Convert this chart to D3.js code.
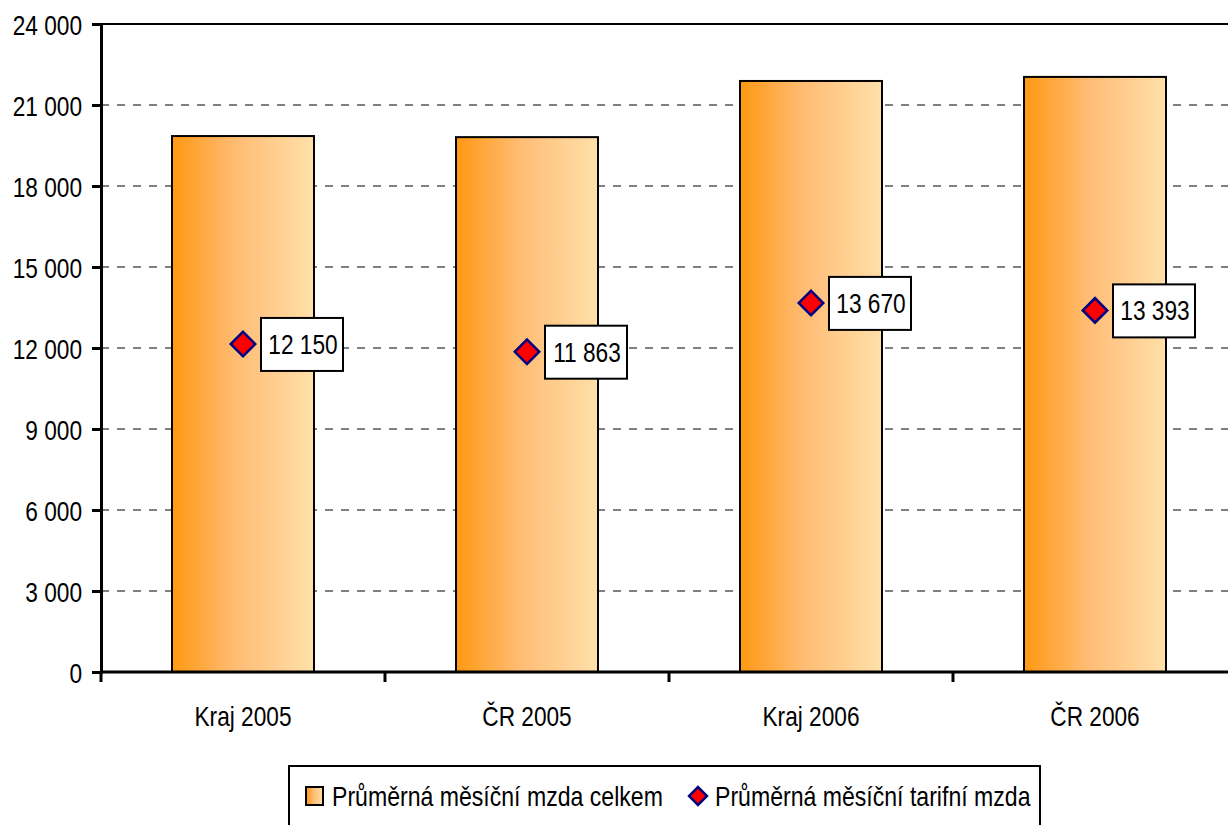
<!DOCTYPE html>
<html>
<head>
<meta charset="utf-8">
<script src="https://d3js.org/d3.v7.min.js"></script>
<style>
  body { margin: 0; background: #fff; }
  svg text { font-family: "Liberation Sans", Arial, sans-serif; fill: #000; }
</style>
</head>
<body>
<div id="chart"></div>
<script>
// data
var categories = ["Kraj 2005", "ČR 2005", "Kraj 2006", "ČR 2006"];
var celkem = [19850, 19810, 21890, 22040];
var tarifni = [12150, 11863, 13670, 13393];
var tarifniLabels = ["12 150", "11 863", "13 670", "13 393"];
var yTicks = [0, 3000, 6000, 9000, 12000, 15000, 18000, 21000, 24000];
var legendNames = ["Průměrná měsíční mzda celkem", "Průměrná měsíční tarifní mzda"];

var w = 1228, h = 825;
var mLeft = 101, mTop = 24, mBottom = 672, mRight = 1237;
var narrowK = 0.81;

// squeeze text horizontally to imitate a narrow font
function narrow(sel, k) {
  sel.each(function() {
    var t = d3.select(this);
    var tx = +t.attr("x") || 0, ty = +t.attr("y") || 0;
    t.attr("x", 0).attr("y", 0)
     .attr("transform", "translate(" + tx + "," + ty + ") scale(" + (k || narrowK) + ",1)");
  });
}

var svg = d3.select("#chart").append("svg").attr("width", w).attr("height", h);

var grad = svg.append("defs").append("linearGradient").attr("id", "bar").attr("x1", "0").attr("x2", "1").attr("y1", "0").attr("y2", "0");
grad.append("stop").attr("offset", "0").attr("stop-color", "#FF9812");
grad.append("stop").attr("offset", "0.45").attr("stop-color", "#FFBC74");
grad.append("stop").attr("offset", "1").attr("stop-color", "#FFE0AA");

var x = d3.scaleBand().domain(categories).range([mLeft, mRight]).paddingInner(0.5).paddingOuter(0.25);
var xb = d3.scaleBand().domain(categories).range([mLeft, mRight]);
var y = d3.scaleLinear().domain([0, 24000]).range([mBottom, mTop]);

var fmt = function(d) { return d3.format(",")(d).replace(/,/g, " "); };

// gridlines
svg.selectAll("line.grid").data(yTicks.filter(function(d) { return d > 0 && d < 24000; })).enter()
  .append("line").attr("class", "grid")
  .attr("x1", mLeft).attr("x2", w).attr("y1", function(d) { return y(d); }).attr("y2", function(d) { return y(d); })
  .attr("stroke", "#555").attr("stroke-width", 1.3).attr("stroke-dasharray", "8,8");

// top border
svg.append("line").attr("x1", mLeft).attr("x2", w).attr("y1", mTop).attr("y2", mTop).attr("stroke", "#000").attr("stroke-width", 2);

// bars
svg.selectAll("rect.bar").data(celkem).enter().append("rect").attr("class", "bar")
  .attr("x", function(d, i) { return x(categories[i]); })
  .attr("y", function(d) { return y(d); })
  .attr("width", x.bandwidth())
  .attr("height", function(d) { return mBottom - y(d); })
  .attr("fill", "url(#bar)").attr("stroke", "#000").attr("stroke-width", 2);

// y axis
var yAxis = svg.append("g").attr("transform", "translate(" + mLeft + ",0)")
  .call(d3.axisLeft(y).tickValues(yTicks).tickSize(9).tickPadding(10).tickFormat(fmt));
yAxis.attr("font-family", null).attr("font-size", null);
yAxis.select(".domain").attr("stroke-width", 3);
yAxis.selectAll(".tick line").attr("stroke-width", 3);
yAxis.selectAll("text").style("font-size", "28px").attr("dy", "0.36em").call(narrow);

// x axis
var xAxis = svg.append("g").attr("transform", "translate(0," + mBottom + ")");
xAxis.append("line").attr("x1", mLeft).attr("x2", w).attr("stroke", "#000").attr("stroke-width", 3);
xAxis.selectAll("line.tk").data(categories.concat(["end"])).enter().append("line").attr("class", "tk")
  .attr("x1", function(d, i) { return mLeft + i * xb.bandwidth(); })
  .attr("x2", function(d, i) { return mLeft + i * xb.bandwidth(); })
  .attr("y1", 0).attr("y2", 10).attr("stroke", "#000").attr("stroke-width", 3);
xAxis.selectAll("text").data(categories).enter().append("text")
  .attr("x", function(d) { return xb(d) + xb.bandwidth() / 2; })
  .attr("y", 54).attr("text-anchor", "middle").style("font-size", "28px").text(function(d) { return d; })
  .call(narrow);

// markers and labels
svg.selectAll("path.mk").data(tarifni).enter().append("path").attr("class", "mk")
  .attr("d", d3.symbol().type(d3.symbolSquare).size(300))
  .attr("transform", function(d, i) { return "translate(" + (xb(categories[i]) + xb.bandwidth() / 2) + "," + y(d) + ") rotate(45)"; })
  .attr("fill", "#FF0000").attr("stroke", "#000080").attr("stroke-width", 2.5);

var lab = svg.selectAll("g.lab").data(tarifni).enter().append("g").attr("class", "lab")
  .attr("transform", function(d, i) { return "translate(" + (xb(categories[i]) + xb.bandwidth() / 2 + 18) + "," + y(d) + ")"; });
lab.append("rect").attr("x", 0).attr("y", -26).attr("width", 82).attr("height", 53)
  .attr("fill", "#fff").attr("stroke", "#000").attr("stroke-width", 2);
lab.append("text").attr("x", 42).attr("y", 10).attr("text-anchor", "middle").style("font-size", "28px")
  .text(function(d, i) { return tarifniLabels[i]; })
  .call(narrow);

// legend
var lg = svg.append("g");
lg.append("rect").attr("x", 289).attr("y", 766).attr("width", 751).attr("height", 80)
  .attr("fill", "#fff").attr("stroke", "#000").attr("stroke-width", 2);
lg.append("rect").attr("x", 306).attr("y", 787).attr("width", 17).attr("height", 18)
  .attr("fill", "url(#bar)").attr("stroke", "#000").attr("stroke-width", 2);
lg.append("text").attr("x", 332).attr("y", 806).style("font-size", "27px").text(legendNames[0]).call(narrow, 0.855);
lg.append("path").attr("d", d3.symbol().type(d3.symbolSquare).size(160))
  .attr("transform", "translate(698,796) rotate(45)")
  .attr("fill", "#FF0000").attr("stroke", "#000080").attr("stroke-width", 2.5);
lg.append("text").attr("x", 715).attr("y", 806).style("font-size", "27px").text(legendNames[1]).call(narrow, 0.855);
</script>
</body>
</html>
